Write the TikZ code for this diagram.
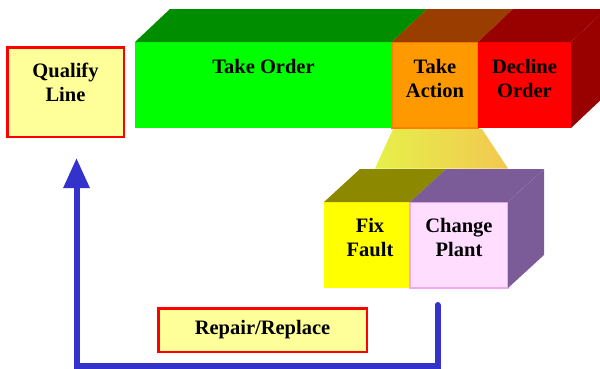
\documentclass[tikz,border=0pt]{standalone}
\usepackage{fontspec}
\setmainfont{Liberation Serif}[BoldFont={Liberation Serif Bold}]
\usepackage{xcolor}
\usetikzlibrary{arrows.meta,positioning}
\definecolor{takeg}{HTML}{00FF00}
\definecolor{takegd}{HTML}{008E00}
\definecolor{actor}{HTML}{FF9900}
\definecolor{actord}{HTML}{FF7F00}
\definecolor{brownc}{HTML}{993D00}
\definecolor{declr}{HTML}{FF0000}
\definecolor{declrd}{HTML}{990000}
\definecolor{lemon}{HTML}{FFFF99}
\definecolor{boxred}{HTML}{FF0000}
\definecolor{fixy}{HTML}{FFFF00}
\definecolor{olivec}{HTML}{8C8800}
\definecolor{pinkc}{HTML}{FFDDFF}
\definecolor{pinkd}{HTML}{F0A8F0}
\definecolor{purpc}{HTML}{7B5C99}
\definecolor{trapl}{HTML}{E6F04A}
\definecolor{trapr}{HTML}{F2C850}
\definecolor{loopblue}{HTML}{3333CC}
\tikzset{
  face/.style={rectangle,inner sep=0pt,outer sep=0pt,anchor=south west,minimum height=86pt},
  lbl/.style={inner sep=0pt,align=center,font=\fontsize{20.5}{24}\selectfont\bfseries},
  note/.style={draw=boxred,line width=2.5pt,fill=lemon,inner sep=0pt,outer sep=0pt,anchor=south west},
  loopar/.style={-{Triangle[length=30pt,width=25pt]},line width=6pt,loopblue,line cap=round}
}

\begin{document}
\begin{tikzpicture}[x=1pt,y=1pt]
\useasboundingbox (0,0) rectangle (600,368);
% top bar
\node[face,fill=takeg,minimum width=257pt] (order) at (135,240) {};
\node[face,fill=actor,draw=actord,line width=1.5pt,minimum width=86pt] (action) at (392,240) {};
\node[face,fill=declr,minimum width=93pt] (decline) at (478,240) {};
\fill[takegd] (order.north west) -- (order.north east) -- ++(35,33) -- ++(-257,0) -- cycle;
\fill[brownc] (action.north west) -- (action.north east) -- ++(35,33) -- ++(-86,0) -- cycle;
\fill[declrd] (decline.north west) -- (decline.north east) -- ++(35,33) -- ++(-93,0) -- cycle;
\fill[declrd] (decline.north east) -- ++(35,33) -- ++(0,-86) -- (decline.south east) -- cycle;
\node[lbl,below=17pt of order.north] (orderTxt) {Take Order};
\node[lbl,below=17pt of action.north] (actionTxt) {Take\\Action};
\node[lbl,below=17pt of decline.north] (declineTxt) {Decline\\Order};
% zoom wedge
\shade[left color=trapl,right color=trapr] (393,239) -- (482,239) -- (508,199.5) -- (375,199.5) -- cycle;
% lower block
\node[face,fill=fixy,minimum width=86pt] (fix) at (324,80) {};
\node[face,fill=pinkc,draw=pinkd,line width=1.5pt,minimum width=98pt] (plant) at (410,80) {};
\fill[olivec] (fix.north west) -- (fix.north east) -- ++(36,33) -- ++(-86,0) -- cycle;
\fill[purpc] (plant.north west) -- (plant.north east) -- ++(36,33) -- ++(-98,0) -- cycle;
\fill[purpc] (plant.north east) -- ++(36,33) -- ++(0,-86) -- (plant.south east) -- cycle;
\node[lbl,below=16pt of fix.north,xshift=3pt] (fixTxt) {Fix\\Fault};
\node[lbl,below=16pt of plant.north] (plantTxt) {Change\\Plant};
% side boxes
\node[note,minimum width=116.5pt,minimum height=89.5pt] (qualify) at (7.25,231.25) {};
\node[lbl,below=16pt of qualify.north] (qualifyTxt) {Qualify\\Line};
\node[note,lbl,draw=boxred,line width=2.5pt,fill=lemon,minimum width=208.5pt,minimum height=43.5pt] (repair) at (158.25,16.25) {Repair/Replace};
% feedback loop
\coordinate (loopStart) at (437.5,63);
\coordinate (loopEnd) at (76.5,210);
\coordinate (loopBase) at (0,2.5);
\draw[loopar] (loopStart) -- (loopStart |- loopBase) -- (loopEnd |- loopBase) -- (loopEnd);
\end{tikzpicture}
\end{document}
